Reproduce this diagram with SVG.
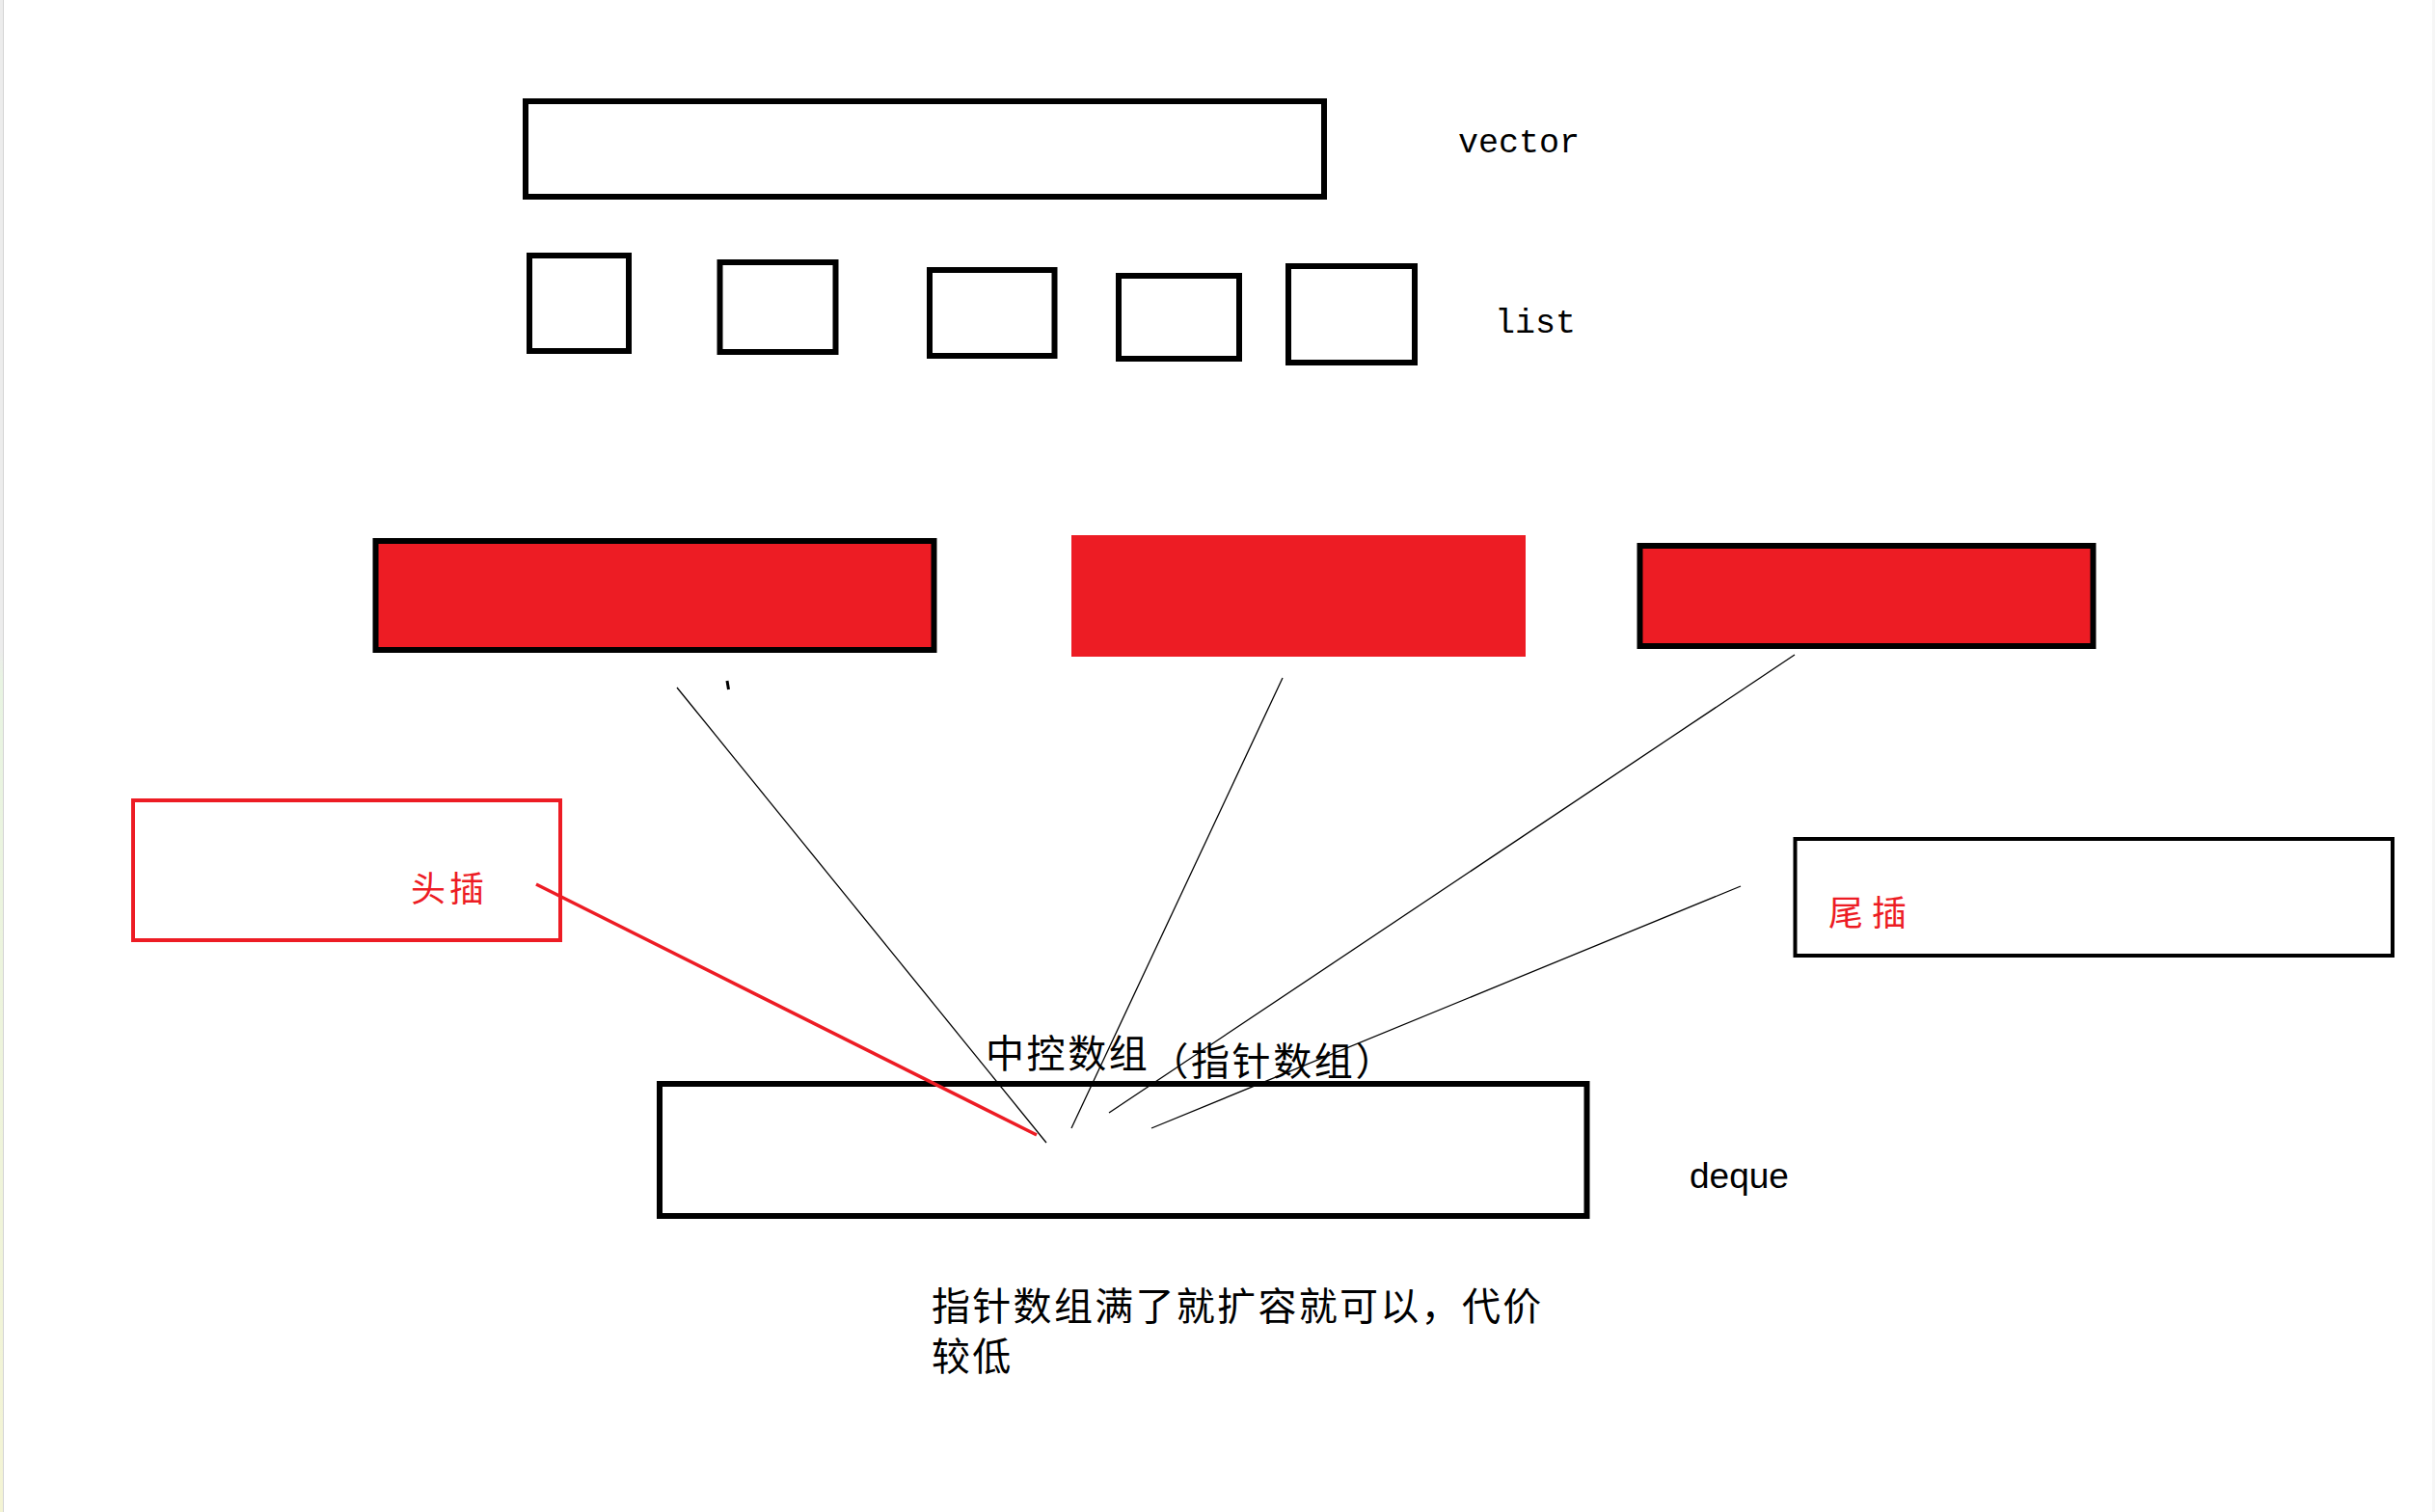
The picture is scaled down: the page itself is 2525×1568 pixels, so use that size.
<svg xmlns="http://www.w3.org/2000/svg" width="2525" height="1568" viewBox="0 0 2525 1568">
  <defs>
    <linearGradient id="edge" x1="0" y1="0" x2="0" y2="1">
      <stop offset="0" stop-color="#ececec"/>
      <stop offset="0.43" stop-color="#ececec"/>
      <stop offset="0.45" stop-color="#e8f4e2"/>
      <stop offset="1" stop-color="#f4f4d4"/>
    </linearGradient>
  </defs>
  <style>
    .box { fill: #ffffff; stroke: #000000; stroke-width: 6; }
    .redblk { fill: #ED1C24; stroke: #000000; stroke-width: 6; }
    .redbox { fill: #ffffff; stroke: #ED1C24; stroke-width: 4; }
    .thin { stroke: #000000; stroke-width: 1.3; fill: none; }
    .redline { stroke: #ED1C24; stroke-width: 3.5; fill: none; }
    .mono { font-family: "Liberation Mono", "DejaVu Sans Mono", monospace; font-size: 35px; fill: #000; }
    .sans { font-family: "Liberation Sans", Arial, sans-serif; font-size: 37px; fill: #000; }
    .cjk { font-family: "Noto Sans CJK SC", "Noto Sans", sans-serif; fill: #000; }
    .cjkred { font-family: "Noto Sans CJK SC", "Noto Sans", sans-serif; fill: #ED1C24; }
  </style>

  <rect x="0" y="0" width="2525" height="1568" fill="#ffffff"/>
  <rect x="0" y="0" width="3" height="1568" fill="url(#edge)"/>
  <line x1="3.5" y1="0" x2="3.5" y2="1568" stroke="#d4d4d4" stroke-width="1"/>
  <rect x="2522" y="0" width="3" height="1568" fill="#f6f6f6"/>

  <g id="vector">
    <rect class="box" x="545" y="105" width="828" height="99"/>
    <text class="mono" x="1512" y="158">vector</text>
  </g>

  <g id="list">
    <rect class="box" x="549" y="265" width="103" height="99"/>
    <rect class="box" x="746.5" y="272" width="120" height="93"/>
    <rect class="box" x="964" y="280" width="129.5" height="89"/>
    <rect class="box" x="1160" y="286" width="125" height="86"/>
    <rect class="box" x="1336" y="276" width="131" height="100"/>
    <text class="mono" x="1550" y="345">list</text>
  </g>

  <g id="buffer-1">
    <rect class="redblk" x="389.5" y="561" width="579" height="113"/>
  </g>
  <g id="buffer-2">
    <rect x="1111" y="555" width="471" height="126" fill="#ED1C24"/>
  </g>
  <g id="buffer-3">
    <rect class="redblk" x="1700.5" y="566" width="470" height="104"/>
  </g>

  <g id="head-insert">
    <rect class="redbox" x="138" y="830" width="443" height="145"/>
    <text class="cjkred" x="426" y="935" font-size="36" letter-spacing="4">头插</text>
  </g>

  <g id="tail-insert">
    <rect class="box" style="stroke-width:4" x="1861.5" y="870" width="619.5" height="121"/>
    <text class="cjkred" x="1896" y="960" font-size="36" letter-spacing="9">尾插</text>
  </g>

  <g id="deque">
    <rect class="box" x="684" y="1124" width="961.5" height="137"/>
    <text class="sans" x="1752" y="1232">deque</text>
  </g>

  <g id="map-label">
    <text class="cjk" x="1022" y="1107" font-size="40" letter-spacing="2.6">中控数组<tspan dy="8">（指针数组）</tspan></text>
  </g>

  <g id="note">
    <text class="cjk" x="966" y="1369" font-size="40" letter-spacing="2.3">指针数组满了就扩容就可以，代价</text>
    <text class="cjk" x="966" y="1421" font-size="40" letter-spacing="2.3">较低</text>
  </g>

  <g id="connectors">
    <line class="thin" x1="702" y1="713" x2="1085" y2="1185"/>
    <line class="thin" x1="1330" y1="703" x2="1111" y2="1170"/>
    <line class="thin" x1="1861" y1="679" x2="1150" y2="1154"/>
    <line class="thin" x1="1805" y1="919" x2="1194" y2="1170"/>
    <line class="redline" x1="556" y1="917" x2="1075" y2="1177"/>
    <line x1="754" y1="706" x2="755.5" y2="715" stroke="#000" stroke-width="3"/>
  </g>
</svg>
